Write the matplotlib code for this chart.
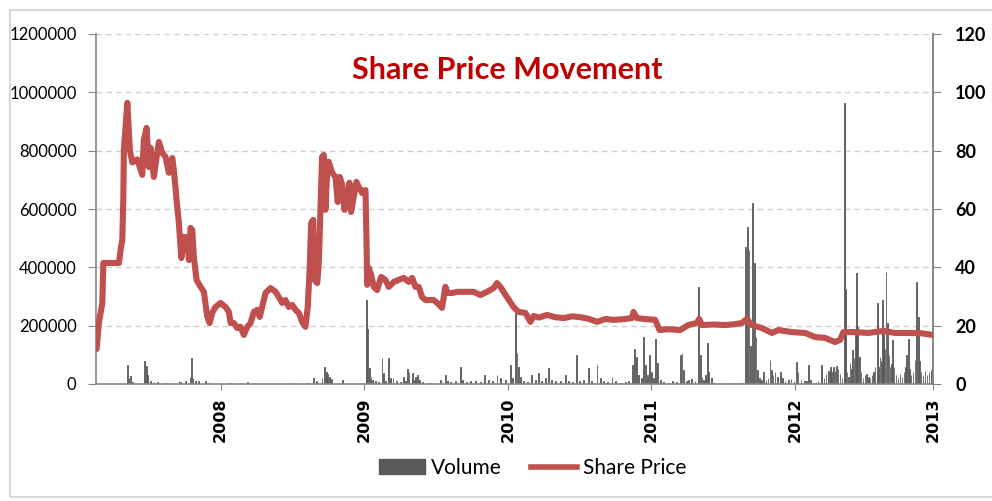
import matplotlib
matplotlib.use("Agg")
import matplotlib.pyplot as plt
from matplotlib.patches import Patch, Rectangle
from matplotlib.lines import Line2D

# ---------------- data (decimal years) ----------------
price_x = [2007.137, 2007.153, 2007.177, 2007.184, 2007.293, 2007.304, 2007.316, 2007.323, 2007.327,
           2007.351, 2007.369, 2007.386, 2007.421, 2007.455, 2007.466, 2007.485, 2007.501, 2007.513,
           2007.536, 2007.555, 2007.571, 2007.594, 2007.617, 2007.640, 2007.664, 2007.675, 2007.694,
           2007.710, 2007.727, 2007.745, 2007.757, 2007.768, 2007.780, 2007.791, 2007.803, 2007.814,
           2007.833, 2007.861, 2007.884, 2007.908, 2007.924, 2007.942, 2007.965, 2008.000, 2008.035,
           2008.058, 2008.070, 2008.093, 2008.116, 2008.139, 2008.162, 2008.186, 2008.209, 2008.232,
           2008.255, 2008.273, 2008.313, 2008.348, 2008.383, 2008.406, 2008.429, 2008.452, 2008.475,
           2008.499, 2008.522, 2008.545, 2008.568, 2008.591, 2008.607, 2008.621, 2008.631, 2008.645,
           2008.654, 2008.673, 2008.684, 2008.696, 2008.707, 2008.719, 2008.730, 2008.742, 2008.753,
           2008.777, 2008.800, 2008.816, 2008.830, 2008.847, 2008.863, 2008.881, 2008.897, 2008.909,
           2008.927, 2008.946, 2008.962, 2008.986, 2009.009, 2009.016, 2009.021, 2009.032, 2009.049,
           2009.067, 2009.090, 2009.118, 2009.148, 2009.171, 2009.206, 2009.240, 2009.275, 2009.310,
           2009.334, 2009.357, 2009.380, 2009.403, 2009.426, 2009.484, 2009.508, 2009.542, 2009.565,
           2009.581, 2009.612, 2009.647, 2009.693, 2009.762, 2009.809, 2009.855, 2009.901, 2009.925,
           2009.948, 2009.994, 2010.040, 2010.075, 2010.122, 2010.157, 2010.180, 2010.220, 2010.273,
           2010.330, 2010.388, 2010.450, 2010.504, 2010.560, 2010.621, 2010.680, 2010.734, 2010.800,
           2010.864, 2010.875, 2010.899, 2010.950, 2011.026, 2011.056, 2011.117, 2011.200, 2011.256,
           2011.316, 2011.332, 2011.351, 2011.430, 2011.513, 2011.580, 2011.629, 2011.664, 2011.699,
           2011.768, 2011.838, 2011.884, 2011.977, 2012.070, 2012.139, 2012.209, 2012.278, 2012.313,
           2012.336, 2012.417, 2012.510, 2012.614, 2012.696, 2012.786, 2012.881, 2012.960]
price_y = [12.0, 20.9, 27.8, 41.5, 41.5, 46.0, 49.4, 63.0, 80.0,
           96.4, 80.0, 76.0, 77.0, 71.7, 83.7, 87.8, 74.4, 81.0,
           71.0, 77.9, 83.0, 79.2, 77.9, 72.4, 77.5, 73.4, 63.0,
           55.2, 43.2, 50.4, 46.0, 50.4, 42.5, 53.5, 52.8, 43.6,
           35.7, 33.3, 31.6, 23.0, 20.9, 24.4, 26.4, 27.8, 26.4,
           24.7, 20.9, 20.9, 19.2, 19.6, 16.8, 19.6, 20.9, 24.7,
           25.4, 23.0, 31.2, 32.9, 31.6, 29.8, 27.8, 28.8, 26.4,
           27.1, 25.4, 24.4, 21.3, 19.6, 26.4, 40.1, 55.2, 56.3,
           35.7, 34.6, 41.5, 60.7, 77.9, 78.5, 59.7, 72.4, 76.2,
           72.4, 71.0, 62.4, 71.0, 68.3, 59.7, 63.1, 69.0, 59.0,
           64.1, 69.3, 67.6, 65.5, 66.5, 49.4, 34.0, 39.8, 37.4,
           33.3, 32.2, 36.7, 35.7, 33.3, 35.0, 35.7, 36.4, 35.0,
           36.4, 33.3, 33.3, 29.8, 28.8, 28.8, 27.8, 26.1, 33.3,
           31.2, 31.2, 31.6, 31.6, 31.6, 30.5, 31.6, 32.9, 34.6,
           33.3, 29.8, 26.4, 24.7, 24.4, 21.3, 23.3, 22.8, 23.7,
           22.9, 22.6, 23.2, 22.9, 22.4, 21.3, 22.3, 22.0, 22.2,
           22.6, 24.7, 22.6, 22.3, 22.0, 18.5, 18.8, 18.5, 20.2,
           20.9, 22.3, 20.2, 20.4, 20.2, 20.5, 20.9, 22.3, 20.2,
           19.2, 17.5, 18.5, 17.8, 17.5, 16.1, 15.8, 14.4, 15.1,
           17.8, 17.8, 17.5, 18.2, 17.5, 17.5, 17.4, 16.8]

vol_x = [2007.351, 2007.362, 2007.374, 2007.386, 2007.473, 2007.483, 2007.494, 2007.513, 2007.536,
         2007.560, 2007.617, 2007.710, 2007.722, 2007.757, 2007.787, 2007.799, 2007.808, 2007.826,
         2007.849, 2007.896, 2007.919, 2008.070, 2008.186, 2008.487, 2008.603, 2008.645, 2008.668,
         2008.707, 2008.723, 2008.737, 2008.746, 2008.758, 2008.770, 2008.849,
         2009.016, 2009.025, 2009.036, 2009.047, 2009.057, 2009.078, 2009.099, 2009.125, 2009.136,
         2009.148, 2009.171, 2009.183, 2009.201, 2009.224, 2009.252, 2009.275, 2009.287, 2009.303,
         2009.313, 2009.334, 2009.343, 2009.357, 2009.373, 2009.384, 2009.405, 2009.461, 2009.530,
         2009.565, 2009.579, 2009.600, 2009.635, 2009.670, 2009.684, 2009.711, 2009.739, 2009.774,
         2009.809, 2009.839, 2009.865, 2009.892, 2009.925, 2009.948, 2009.983, 2010.017, 2010.031,
         2010.052, 2010.064, 2010.075, 2010.087, 2010.108, 2010.136, 2010.163, 2010.191, 2010.214,
         2010.233, 2010.261, 2010.284, 2010.303, 2010.330, 2010.365, 2010.400, 2010.421, 2010.449,
         2010.477, 2010.498, 2010.525, 2010.562, 2010.581, 2010.621, 2010.644, 2010.665, 2010.692,
         2010.725, 2010.748, 2010.783, 2010.817, 2010.838, 2010.868, 2010.880, 2010.894, 2010.908,
         2010.929, 2010.945, 2010.957, 2010.970, 2010.984, 2010.998, 2011.012, 2011.028, 2011.042,
         2011.061, 2011.082, 2011.117, 2011.144, 2011.172, 2011.200, 2011.212, 2011.223, 2011.242,
         2011.258, 2011.281, 2011.304, 2011.327, 2011.339, 2011.351, 2011.363, 2011.374, 2011.390,
         2011.397, 2011.416, 2011.436, 2011.464, 2011.506, 2011.548, 2011.569, 2011.604, 2011.631,
         2011.657, 2011.668, 2011.680, 2011.690, 2011.703, 2011.715, 2011.727, 2011.738, 2011.750,
         2011.764, 2011.780, 2011.798, 2011.812, 2011.826, 2011.838, 2011.847, 2011.861, 2011.875,
         2011.896, 2011.910, 2011.930, 2011.953, 2011.972, 2011.993, 2012.012, 2012.021, 2012.042,
         2012.063, 2012.077, 2012.093, 2012.105, 2012.125, 2012.146, 2012.160, 2012.186, 2012.202,
         2012.216, 2012.230, 2012.244, 2012.254, 2012.267, 2012.278, 2012.290, 2012.299, 2012.313,
         2012.327, 2012.343, 2012.353, 2012.362, 2012.373, 2012.383, 2012.393, 2012.402, 2012.411,
         2012.418, 2012.425, 2012.434, 2012.448, 2012.459, 2012.473, 2012.487, 2012.499, 2012.512,
         2012.522, 2012.536, 2012.546, 2012.557, 2012.573, 2012.583, 2012.592, 2012.599, 2012.608,
         2012.614, 2012.619, 2012.626, 2012.633, 2012.645, 2012.654, 2012.661, 2012.671, 2012.680,
         2012.689, 2012.703, 2012.716, 2012.730, 2012.744, 2012.758, 2012.769, 2012.777, 2012.788,
         2012.797, 2012.807, 2012.821, 2012.835, 2012.846, 2012.857, 2012.866, 2012.876, 2012.890,
         2012.904, 2012.918, 2012.932, 2012.951, 2012.956]
vol_y = [65000, 20000, 27000, 8000, 80000, 62000, 30000, 10000, 8000,
         7000, 5000, 12000, 8000, 10000, 25000, 89000, 20000, 10000,
         10000, 12000, 6000, 5000, 7000, 3000, 4000, 20000, 10000,
         20000, 58000, 41000, 35000, 24000, 18000, 14000,
         288000, 189000, 55000, 25000, 15000, 10000, 8000, 89000, 38000,
         12000, 89000, 20000, 20000, 10000, 8000, 24000, 12000, 51000,
         40000, 38000, 15000, 24000, 31000, 15000, 8000, 5000, 15000,
         31000, 12000, 8000, 10000, 58000, 15000, 8000, 10000, 12000,
         8000, 31000, 15000, 10000, 31000, 20000, 15000, 65000, 20000,
         243000, 106000, 58000, 25000, 12000, 8000, 31000, 15000, 38000,
         12000, 20000, 55000, 15000, 10000, 12000, 31000, 12000, 8000,
         99000, 10000, 15000, 55000, 12000, 65000, 20000, 10000, 8000,
         25000, 10000, 5000, 8000, 12000, 65000, 120000, 93000, 30000,
         20000, 161000, 65000, 30000, 99000, 40000, 20000, 154000, 72000,
         15000, 8000, 5000, 10000, 8000, 99000, 106000, 48000, 10000,
         15000, 18000, 12000, 334000, 99000, 25000, 15000, 30000, 141000,
         41000, 20000, 8000, 5000, 4000, 5000, 5000, 4000, 8000,
         471000, 540000, 460000, 130000, 622000, 415000, 162000, 48000, 20000,
         15000, 41000, 15000, 20000, 82000, 48000, 30000, 40000, 25000,
         40000, 20000, 10000, 15000, 18000, 10000, 75000, 40000, 15000,
         10000, 12000, 65000, 15000, 5000, 8000, 10000, 65000, 20000,
         35000, 45000, 58000, 40000, 60000, 45000, 62000, 50000, 35000,
         20000, 965000, 325000, 40000, 25000, 72000, 50000, 117000, 90000,
         185000, 380000, 197000, 94000, 40000, 20000, 30000, 35000, 25000,
         20000, 30000, 40000, 60000, 277000, 60000, 94000, 80000, 288000,
         170000, 157000, 120000, 385000, 208000, 100000, 60000, 70000, 151000,
         60000, 30000, 20000, 35000, 25000, 40000, 60000, 99000, 153000,
         50000, 30000, 40000, 82000, 351000, 231000, 80000, 40000, 30000,
         45000, 30000, 40000, 48000, 35000]

year_ticks = [2008.0, 2009.0, 2010.0, 2011.0, 2012.0, 2012.96]
year_labels = ["2008", "2009", "2010", "2011", "2012", "2013"]
vol_ticks = [0, 200000, 400000, 600000, 800000, 1000000, 1200000]
price_ticks = [0, 20, 40, 60, 80, 100, 120]

# ---------------- style ----------------
RED = "#C0504D"
GRAY = "#595959"
AXIS = "#868686"

fig = plt.figure(figsize=(9.92, 5.01), dpi=100)
fig.patch.set_facecolor("white")

# outer chart border
fig.patches.append(Rectangle((10 / 992, 4 / 501), 1.1, 487 / 501, transform=fig.transFigure,
                             fill=False, edgecolor="#D9D9D9", linewidth=1.5))

ax = fig.add_axes([96 / 992, 1 - 384 / 501, (933 - 96) / 992, (384 - 34) / 501])
ax.bar(vol_x, vol_y, width=0.005, color=GRAY, edgecolor=GRAY, linewidth=0.6, zorder=2)
ax.set_xlim(2007.133, 2012.96)
ax.set_ylim(0, 1200000)
ax.set_yticks(vol_ticks)
ax.set_yticklabels([str(v) for v in vol_ticks], fontfamily="Lato", fontsize=12)
for y in vol_ticks[1:]:
    ax.axhline(y, color="#D0D0D0", linestyle=(0, (4, 3)), linewidth=1.0, zorder=1)

ax.set_xticks(year_ticks)
ax.set_xticklabels(year_labels, rotation=90, fontfamily="DejaVu Sans", fontweight="bold",
                   fontsize=11.5)
ax.tick_params(axis="x", length=4, color=AXIS, pad=6)
ax.tick_params(axis="y", length=6, color=AXIS, pad=8)

ax.spines["top"].set_visible(False)
for side in ["left", "bottom", "right"]:
    ax.spines[side].set_color(AXIS)
    ax.spines[side].set_linewidth(1.2)

ax2 = ax.twinx()
ax2.plot(price_x, price_y, color=RED, linewidth=4.4, solid_joinstyle="round",
         solid_capstyle="round", zorder=3)
ax2.set_ylim(0, 120)
ax2.set_yticks(price_ticks)
ax2.set_yticklabels([str(v) for v in price_ticks], fontfamily="Lato", fontweight="bold",
                    fontsize=13)
ax2.tick_params(axis="y", length=6, color=AXIS, pad=10)
ax2.spines["top"].set_visible(False)
ax2.spines["right"].set_color(AXIS)
ax2.spines["right"].set_linewidth(1.2)
ax2.spines["left"].set_visible(False)
ax2.spines["bottom"].set_visible(False)

fig.text(507 / 992, 1 - 70 / 501, "Share Price Movement", ha="center", va="center",
         fontfamily="Lato", fontweight="bold", fontsize=22, color="#C00000")

handles = [Patch(facecolor=GRAY, edgecolor=GRAY),
           Line2D([], [], color=RED, linewidth=4)]
fig.legend(handles, ["Volume", "Share Price"], loc="center", bbox_to_anchor=(533 / 992, 1 - 468 / 501),
           ncol=2, frameon=False, prop={"family": "Lato", "size": 15}, handlelength=2.2,
           handletextpad=0.3, columnspacing=1.4)

fig.savefig("out.png", dpi=100)
